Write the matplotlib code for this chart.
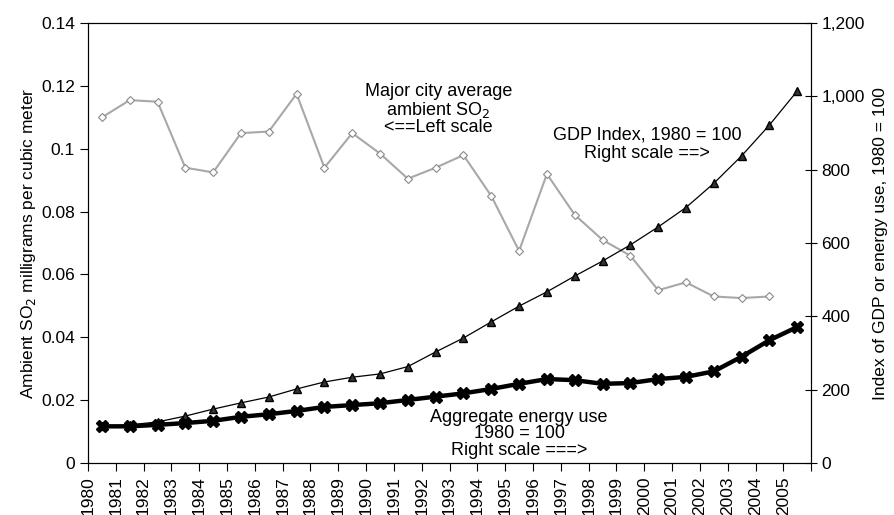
import matplotlib.pyplot as plt
from matplotlib.ticker import FuncFormatter

plt.rcParams['font.family'] = ['Liberation Sans', 'DejaVu Sans']

years = list(range(1980, 2006))
so2 = [0.110, 0.1155, 0.115, 0.094, 0.0925, 0.105, 0.1055, 0.1175, 0.094, 0.105,
       0.0985, 0.0905, 0.094, 0.098, 0.085, 0.0675, 0.092, 0.079, 0.071, 0.066,
       0.055, 0.0575, 0.053, 0.0525, 0.053]
gdp = [100, 104, 112, 128, 147, 164, 180, 202, 221, 234, 243, 263, 303, 341,
       385, 428, 467, 510, 551, 595, 644, 697, 763, 838, 922, 1015]
energy = [100, 100, 104, 109, 115, 126, 133, 142, 153, 158, 163, 172, 181, 190,
          202, 216, 229, 226, 216, 218, 229, 235, 250, 290, 335, 371]

fig = plt.figure(figsize=(8.95, 5.15), dpi=100)
ax = fig.add_axes([0.0983, 0.101, 0.808, 0.854])
ax2 = ax.twinx()

xs = [y + 0.5 for y in years]
ax.plot(xs[:len(so2)], so2, color='#a8a8a8', lw=1.5, marker='D', ms=4,
        mfc='white', mec='#8a8a8a', mew=0.8, zorder=3)
ax2.plot(xs, gdp, color='black', lw=0.9, marker='^', ms=6, mfc='#333333', mec='black')
ax2.plot(xs, energy, color='black', lw=3.2, marker='X', ms=9, mfc='black', mec='black')

ax.set_xlim(1980, 2006)
ax.set_ylim(0, 0.14)
ax2.set_ylim(0, 1200)
ax.set_xticks(range(1980, 2007))
ax.set_xticklabels([str(y) for y in years] + [''], rotation=90, fontsize=12.5)
ax.set_yticks([0, 0.02, 0.04, 0.06, 0.08, 0.1, 0.12, 0.14])
ax.set_yticklabels(['0', '0.02', '0.04', '0.06', '0.08', '0.1', '0.12', '0.14'], fontsize=12.5)
ax2.set_yticks(range(0, 1201, 200))
ax2.yaxis.set_major_formatter(FuncFormatter(lambda v, p: f'{int(v):,}'))
ax2.tick_params(axis='y', labelsize=12.5, direction='inout', length=8)
ax.tick_params(axis='y', direction='out', length=6)
ax.tick_params(axis='x', direction='out', length=6)

ax.set_ylabel('Ambient SO$_2$ milligrams per cubic meter', fontsize=12.5, labelpad=2)
ax2.set_ylabel('Index of GDP or energy use, 1980 = 100', fontsize=12.5, rotation=90, labelpad=6)

ax.text(1992.6, 0.1125, 'Major city average\nambient SO$_2$\n<==Left scale', ha='center',
        va='center', fontsize=13, linespacing=0.95)
ax2.text(2000.1, 870, 'GDP Index, 1980 = 100\nRight scale ==>', ha='center', va='center',
         fontsize=13, linespacing=1.1)
ax2.text(1995.5, 80, 'Aggregate energy use\n1980 = 100\nRight scale ===>', ha='center',
         va='center', fontsize=13, linespacing=0.95)

fig.savefig('out.png', dpi=100)
